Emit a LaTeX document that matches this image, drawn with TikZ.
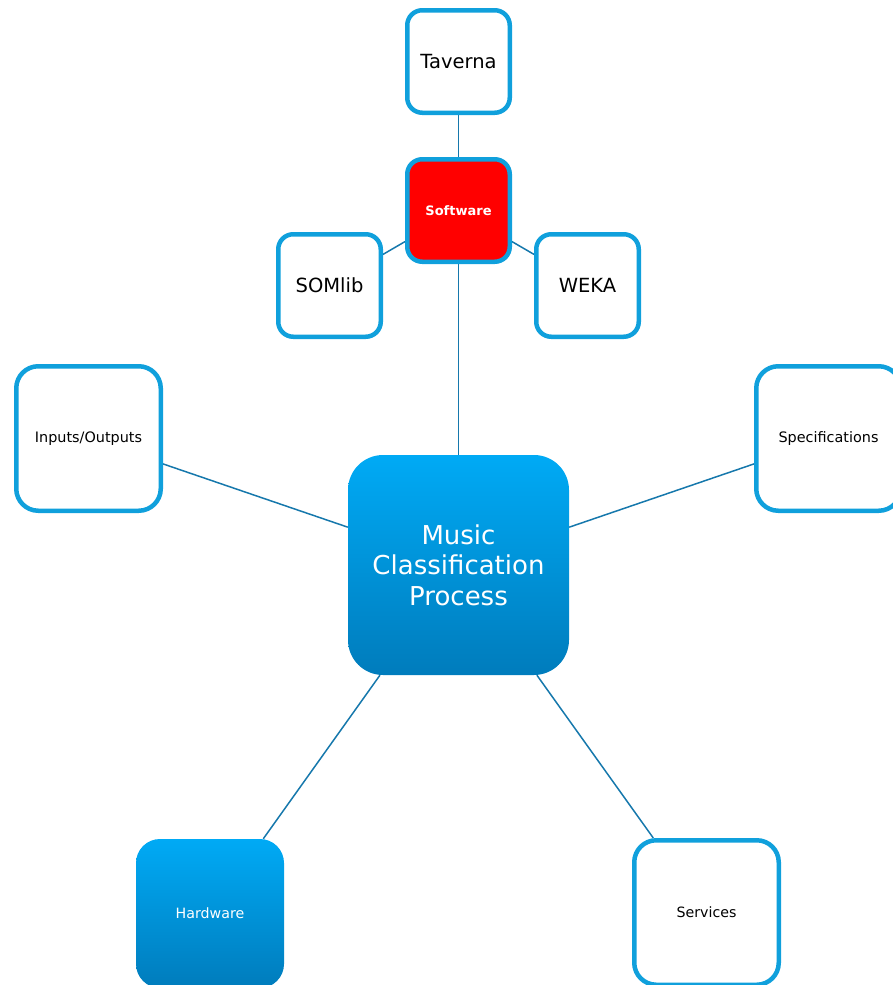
\documentclass[tikz,border=0pt]{standalone}
\usepackage{fontspec}
\setmainfont{DejaVu Sans}
\usetikzlibrary{backgrounds}
\definecolor{boxblue}{RGB}{16,160,220}
\definecolor{linkblue}{RGB}{22,120,172}
\definecolor{gradtop}{RGB}{0,170,245}
\definecolor{gradbot}{RGB}{0,124,188}
\definecolor{softred}{RGB}{255,0,0}
\begin{document}
\begin{tikzpicture}[x=1pt,y=-1pt,
  box/.style={draw=boxblue, line width=4.5pt, fill=white, rounded corners=15pt,
    minimum width=102.5pt, minimum height=102.5pt, inner sep=0pt, align=center, text=black},
  bigbox/.style={box, minimum width=144.5pt, minimum height=144.5pt, rounded corners=22pt},
  grad/.style={top color=gradtop, bottom color=gradbot, draw=none, text=white,
    align=center, inner sep=0pt},
  link/.style={draw=linkblue, line width=1.5pt}]
\useasboundingbox (0,0) rectangle (892,985);

% leaf and hub nodes
\node[box, font=\fontsize{19.5}{22}\selectfont] (taverna) at (458.5,61.5) {Taverna};
\node[box, fill=softred, text=white, font=\bfseries\fontsize{13}{15}\selectfont] (software) at (458.5,210.5) {Software};
\node[box, font=\fontsize{19.5}{22}\selectfont] (somlib) at (329.5,285.5) {SOMlib};
\node[box, font=\fontsize{19.5}{22}\selectfont] (weka) at (587.5,285.5) {WEKA};
\node[bigbox, font=\fontsize{14.4}{17}\selectfont] (io) at (88.5,438.5) {Inputs/Outputs};
\node[bigbox, font=\fontsize{14.4}{17}\selectfont] (spec) at (828.5,438.5) {Specifications};
\node[grad, rounded corners=35pt, minimum width=221pt, minimum height=220pt,
  font=\fontsize{26}{30.5}\selectfont] (mcp) at (458.5,565) {Music\\Classification\\Process};
\node[grad, rounded corners=24pt, minimum width=148pt, minimum height=149pt,
  font=\fontsize{14.2}{17}\selectfont] (hw) at (210,913.5) {Hardware};
\node[bigbox, font=\fontsize{14.2}{17}\selectfont] (services) at (706.5,912.5) {Services};

% connectors, behind the boxes
\begin{pgfonlayer}{background}
\draw[link] (taverna) -- (software);
\draw[link] (software) -- (somlib);
\draw[link] (software) -- (weka);
\draw[link] (software) -- (mcp);
\draw[link] (io) -- (mcp);
\draw[link] (spec) -- (mcp);
\draw[link] (hw) -- (mcp);
\draw[link] (services) -- (mcp);
\end{pgfonlayer}
\end{tikzpicture}
\end{document}
